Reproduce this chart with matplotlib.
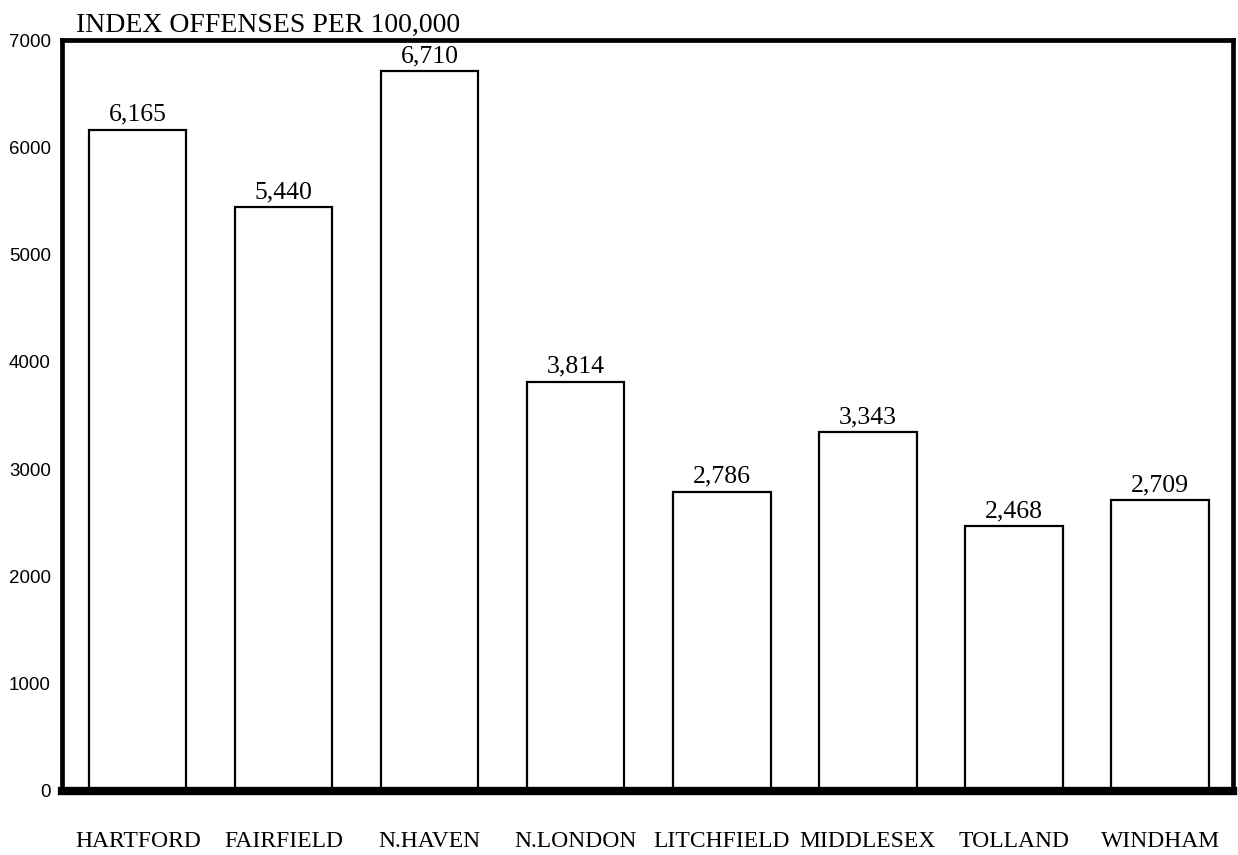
#!/usr/bin/env python3
"""Index offenses per 100,000 by county (bar chart)."""

import matplotlib
matplotlib.use('Agg')
import matplotlib.pyplot as plt
import numpy as np

plt.rcParams.update({
    'font.family': 'serif',
    'font.serif': ['Liberation Serif', 'DejaVu Serif'],
})

counties = ['HARTFORD', 'FAIRFIELD', 'N.HAVEN', 'N.LONDON',
            'LITCHFIELD', 'MIDDLESEX', 'TOLLAND', 'WINDHAM']
offenses = [6165, 5440, 6710, 3814, 2786, 3343, 2468, 2709]
y_ticks = [0, 1000, 2000, 3000, 4000, 5000, 6000, 7000]

fig = plt.figure(figsize=(12.38, 8.55), dpi=100)
ax = fig.add_axes([0.050, 0.075, 0.946, 0.878])

x = np.arange(len(counties))
bars = ax.bar(x, offenses, width=0.665, color='white',
              edgecolor='black', linewidth=1.6, zorder=2)

# value labels above each bar
for bar, val in zip(bars, offenses):
    ax.annotate(f'{val:,}', (bar.get_x() + bar.get_width() / 2, val),
                xytext=(0, 3), textcoords='offset points',
                ha='center', va='bottom', fontsize=18.5)

ax.set_xlim(-0.52, 7.5)
ax.set_ylim(0, 7000)
ax.set_xticks(x)
ax.set_xticklabels(counties, fontsize=17)
ax.set_yticks(y_ticks)
ax.set_yticklabels([str(v) for v in y_ticks], fontsize=13.5,
                   family='Liberation Sans')
ax.tick_params(axis='x', length=0, pad=29)
ax.tick_params(axis='y', length=0, pad=8)

for side in ['left', 'top', 'right']:
    ax.spines[side].set_linewidth(3.4)
ax.spines['bottom'].set_linewidth(6)

fig.text(0.061, 1 - 32 / 855, 'INDEX OFFENSES PER 100,000', fontsize=20,
         ha='left', va='baseline')

fig.savefig('out.png', dpi=100)
